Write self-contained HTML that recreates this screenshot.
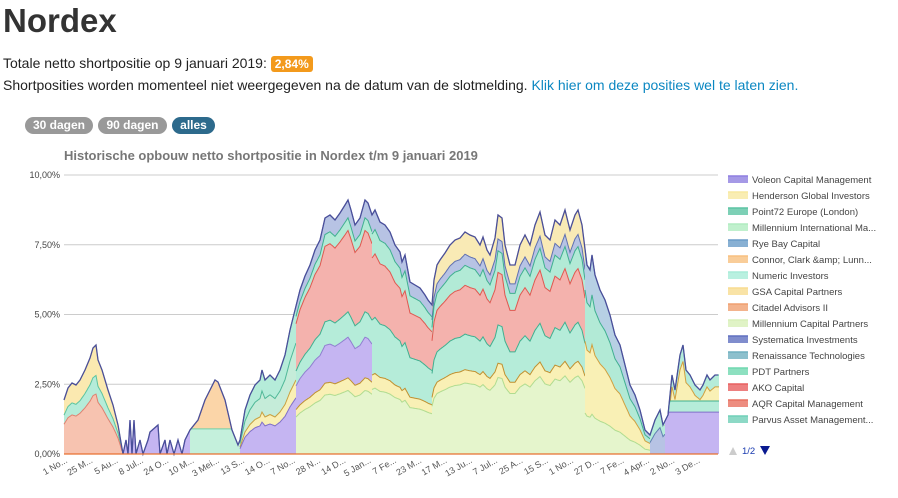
<!DOCTYPE html>
<html><head><meta charset="utf-8"><style>
body{margin:0;width:898px;height:498px;background:#fff;font-family:"Liberation Sans",Arial,sans-serif;color:#222;position:relative;overflow:hidden}
h1{position:absolute;left:3px;top:2px;margin:0;font-size:33px;font-weight:bold;color:#333}
.l1{position:absolute;left:3px;top:55px;font-size:14px}
.l2{position:absolute;left:3px;top:77px;font-size:14px}
.badge{background:#f39a1c;color:#fff;font-weight:bold;font-size:12px;padding:1px 4px;border-radius:3px}
a{color:#0b87c2;text-decoration:none}
.btn{position:absolute;top:117px;height:17px;line-height:17px;border-radius:9px;color:#fff;font-weight:bold;font-size:12px;text-align:center}
svg{position:absolute;left:0;top:0}
</style></head><body>
<h1>Nordex</h1>
<div class="l1">Totale netto shortpositie op 9 januari 2019: <span class="badge">2,84%</span></div>
<div class="l2">Shortposities worden momenteel niet weergegeven na de datum van de slotmelding. <a>Klik hier om deze posities wel te laten zien.</a></div>
<div class="btn" style="left:25px;width:68px;background:#999">30 dagen</div>
<div class="btn" style="left:98px;width:69px;background:#999">90 dagen</div>
<div class="btn" style="left:172px;width:43px;background:#2d6a8c">alles</div>
<svg id="s" width="898" height="498" xmlns="http://www.w3.org/2000/svg" font-family="Liberation Sans, Arial, sans-serif"></svg>
<script>
var E=[[64,400],[68,388],[72,383],[76,385],[80,380],[85,370],[90,358],[93,348],[96,345],[98,360],[102,370],[108,390],[113,405],[118,425],[123,454],[126,440],[128,454],[130,420],[132,454],[134,420],[136,454],[140,440],[143,454],[148,440],[150,432],[158,425],[160,454],[165,440],[167,454],[170,440],[174,454],[178,440],[182,454],[185,440],[190,430],[198,420],[205,400],[215,380],[218,382],[225,400],[232,430],[238,445],[240,440],[245,410],[250,395],[255,385],[260,380],[262,370],[265,380],[270,375],[275,380],[280,370],[285,355],[290,330],[295,310],[300,290],[305,276],[310,265],[315,250],[320,240],[325,218],[330,215],[335,220],[340,213],[345,205],[348,200],[351,210],[355,225],[360,218],[365,200],[368,203],[372,215],[375,210],[380,222],[385,225],[390,232],[395,245],[400,252],[402,262],[405,255],[410,282],[415,285],[420,288],[425,295],[428,300],[432,305],[434,280],[437,265],[440,260],[445,253],[450,245],[455,240],[460,238],[465,232],[470,235],[475,237],[480,245],[483,237],[487,250],[490,255],[495,238],[498,215],[502,218],[505,245],[510,265],[515,265],[520,245],[525,235],[530,245],[535,225],[540,212],[545,235],[550,240],[555,220],[560,225],[565,210],[570,230],[575,215],[578,210],[582,225],[587,265],[590,270],[592,255],[595,275],[600,290],[605,300],[610,315],[615,335],[620,345],[625,365],[630,385],[635,395],[640,410],[645,430],[650,435],[655,420],[660,410],[663,425],[668,415],[672,375],[675,390],[680,355],[683,345],[686,370],[690,375],[695,385],[700,390],[703,385],[707,375],[710,380],[715,375],[718,375]];
var B=454,K=27.9;
function env(x){for(var i=1;i<E.length;i++){if(x<=E[i][0]){var a=E[i-1],b=E[i];return a[1]+(b[1]-a[1])*(x-a[0])/(b[0]-a[0]);}}return E[E.length-1][1];}
var R=[[64,122,[[1,'#fbe9b0','#e8c860'],[.72,'#b5ecd9','#5cc4a0'],[.55,'#f7c3b0','#e08070']]],
[122,190,[[1,'#c5b5f2','#7060c0']]],
[190,240,[[1,'#fbd5a8','#e8a860'],[{a:.9},'#c4f0dc','#70d0a8']]],
[240,296,[[1,'#b5ecd9','#50b898'],[.75,'#c5ecd9','#50b898'],[.5,'#faf0b5','#c8a040'],[.38,'#c5b5f2','#8070c8']]],
[296,372,[[1,'#b7c3e4','#6070b0'],[.93,'#b2ead6','#40b090'],[.88,'#f4b2ad','#e05850'],[.56,'#b5ecd9','#40b090'],[.46,'#c5b5f2','#9080d0'],[.30,'#f9f0b5','#c09030'],[.25,'#e5f5cc','#b0dc90']]],
[372,432,[[1,'#b7c3e4','#6070b0'],[.92,'#b2ead6','#40b090'],[.82,'#f4b2ad','#e05850'],[.56,'#b5ecd9','#40b090'],[.33,'#f9f0b5','#c09030'],[.27,'#e5f5cc','#b0dc90']]],
[432,585,[[1,'#f9eab5','#e0c060'],[.9,'#b7c3e4','#6070b0'],[.85,'#b2ead6','#40b090'],[.76,'#f4b2ad','#e05850'],[.54,'#b5ecd9','#40b090'],[.38,'#f9f0b5','#c09030'],[.32,'#e5f5cc','#b0dc90']]],
[585,650,[[1,'#b7d0e4','#6080b0'],[.8,'#b2ead6','#40b090'],[.55,'#f9f0b5','#d0a040'],[.2,'#e5f5cc','#b0dc90']]],
[650,665,[[1,'#b5ecd9','#40b090'],[.6,'#b7c3e4','#6080b0']]],
[665,719,[[1,'#b5ecd9','#40b090'],[.85,'#f9f0b5','#d0a040'],[{a:1.9},'#b5ecd9','#40b090'],[{a:1.5},'#c5b5f2','#8070c8']]]];
var s='';
[0,2.5,5,7.5,10].forEach(function(v,i){var y=B-K*v;s+='<line x1="64" x2="718" y1="'+y+'" y2="'+y+'" stroke="#ccc"/>';s+='<text x="60" y="'+(y+3)+'" font-size="9" fill="#444" text-anchor="end">'+['0,00%','2,50%','5,00%','7,50%','10,00%'][i]+'</text>';});
R.forEach(function(r){var x0=r[0],x1=r[1];r[2].forEach(function(L){var pts=[];for(var x=x0;x<=x1;x++){var t=env(x),h=B-t,y;if(typeof L[0]=='object'){y=Math.max(t,B-K*L[0].a);}else y=B-h*L[0];pts.push(x+','+y.toFixed(1));}
s+='<polygon points="'+x0+','+B+' '+pts.join(' ')+' '+x1+','+B+'" fill="'+L[1]+'"/>';s+='<polyline points="'+pts.join(' ')+'" fill="none" stroke="'+L[2]+'" stroke-width="1"/>';});});
s+='<polyline points="'+E.map(function(p){return p.join(',')}).join(' ')+'" fill="none" stroke="#4a4f9a" stroke-width="1.3"/>';
s+='<line x1="64" x2="718" y1="454" y2="454" stroke="#e87030" stroke-width="1.2"/>';
s+='<text x="64" y="160" font-size="13" font-weight="bold" fill="#777">Historische opbouw netto shortpositie in Nordex t/m 9 januari 2019</text>';
var lab=['1 No...','25 M...','5 Au...','8 Jul...','24 O...','10 M...','3 Mei...','13 S...','14 O...','7 No...','28 N...','14 D...','5 Jan...','7 Fe...','23 M...','17 M...','13 Ju...','7 Jul...','25 A...','15 S...','1 No...','27 D...','7 Fe...','4 Apr...','2 No...','3 De...'];
lab.forEach(function(t,i){var x=68+25.3*i;s+='<text transform="translate('+x+',462) rotate(-30)" font-size="9" fill="#555" text-anchor="end">'+t+'</text>';});
var leg=[['Voleon Capital Management','#8f7fe0'],['Henderson Global Investors','#f7e9a0'],['Point72 Europe (London)','#5cc4a4'],['Millennium International Ma...','#b0ecc0'],['Rye Bay Capital','#6a9cc8'],['Connor, Clark &amp;amp; Lunn...','#f8c080'],['Numeric Investors','#a8ecd8'],['GSA Capital Partners','#f8dc90'],['Citadel Advisors II','#f0a070'],['Millennium Capital Partners','#d8f0b8'],['Systematica Investments','#6070c0'],['Renaissance Technologies','#70b0c0'],['PDT Partners','#70d8b0'],['AKO Capital','#e86060'],['AQR Capital Management','#e87060'],['Parvus Asset Management...','#70d0b8']];
leg.forEach(function(l,i){var y=180+16*i;s+='<rect x="728" y="'+(y-4)+'" width="20" height="7" fill="'+l[1]+'" opacity="0.8"/><line x1="728" x2="748" y1="'+(y-4)+'" y2="'+(y-4)+'" stroke="'+l[1]+'" stroke-width="1.5"/><text x="752" y="'+(y+3)+'" font-size="9.5" fill="#444">'+l[0]+'</text>';});
s+='<polygon points="729,455 737,455 733,447" fill="#ccc"/><text x="742" y="454" font-size="9.5" fill="#1a3bb0">1/2</text><polygon points="760,446 770,446 765,455" fill="#0a1a90"/>';
document.getElementById('s').innerHTML=s;
</script>
</body></html>
